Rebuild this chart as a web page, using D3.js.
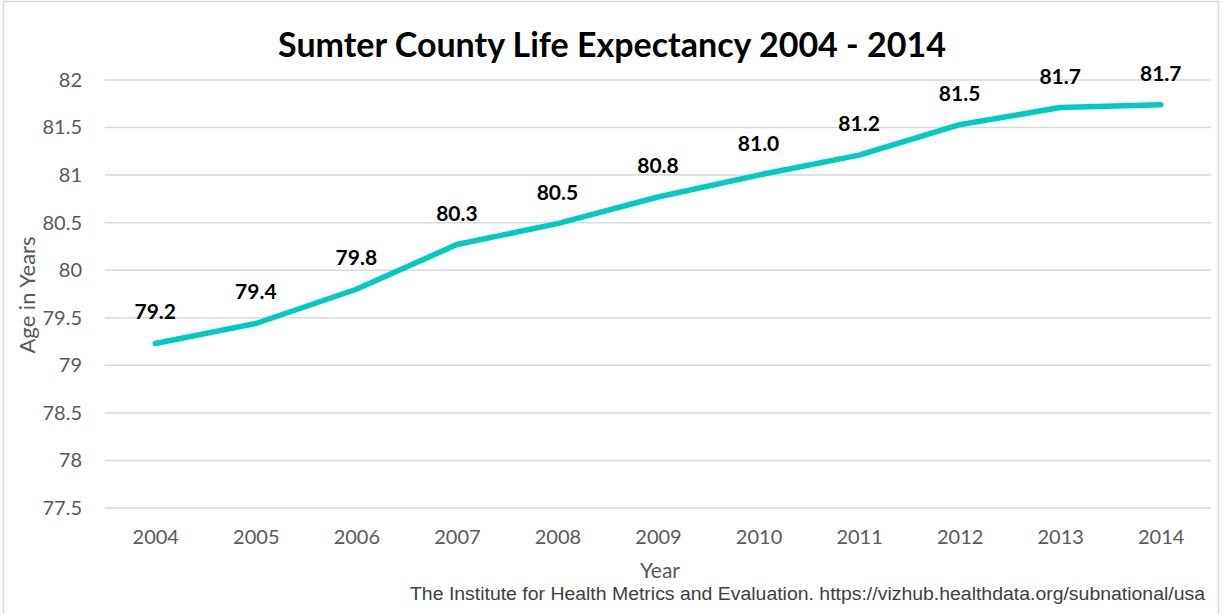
<!DOCTYPE html>
<html>
<head>
<meta charset="utf-8">
<script src="https://cdnjs.cloudflare.com/ajax/libs/d3/7.8.5/d3.min.js"></script>
<style>
  body { margin: 0; background: #fff; }
  svg { display: block; }
</style>
</head>
<body>
<div id="chart"></div>
<script>
// data
const years = ["2004", "2005", "2006", "2007", "2008", "2009", "2010", "2011", "2012", "2013", "2014"];
const lifeExpectancy = [79.23, 79.44, 79.80, 80.27, 80.49, 80.77, 81.0, 81.21, 81.53, 81.71, 81.74];
const yTicks = [77.5, 78, 78.5, 79, 79.5, 80, 80.5, 81, 81.5, 82];

const width = 1222;
const height = 614;
const margin = { top: 80, right: 11, bottom: 106, left: 105 };

const svg = d3.select("#chart").append("svg")
    .attr("width", width)
    .attr("height", height);

// chart border
svg.append("rect")
    .attr("x", 3.5).attr("y", 1.5)
    .attr("width", 1215).attr("height", 640)
    .attr("fill", "none")
    .attr("stroke", "#d9d9d9")
    .attr("stroke-width", 1.5);

const x = d3.scalePoint()
    .domain(years)
    .range([margin.left, width - margin.right])
    .padding(0.5);

const y = d3.scaleLinear()
    .domain([77.5, 82])
    .range([height - margin.bottom, margin.top]);

// gridlines
svg.append("g")
    .selectAll("line")
    .data(yTicks)
    .enter()
    .append("line")
    .attr("x1", margin.left)
    .attr("x2", width - margin.right)
    .attr("y1", d => y(d))
    .attr("y2", d => y(d))
    .attr("stroke", "#d9d9d9")
    .attr("stroke-width", 1.5);

// y axis labels
const yAxis = svg.append("g")
    .attr("transform", `translate(${margin.left - 23},0)`)
    .call(d3.axisLeft(y).tickValues(yTicks).tickSize(0).tickPadding(0).tickFormat(d3.format("")));
yAxis.select(".domain").remove();
yAxis.selectAll("text")
    .attr("font-family", "Lato, sans-serif")
    .attr("font-size", 20)
    .attr("fill", "#595959");

// x axis labels
const xAxis = svg.append("g")
    .attr("transform", `translate(0,${height - margin.bottom})`)
    .call(d3.axisBottom(x).tickSize(0).tickPadding(22));
xAxis.select(".domain").remove();
xAxis.selectAll("text")
    .attr("font-family", "Lato, sans-serif")
    .attr("font-size", 20)
    .attr("fill", "#595959");

// line
const line = d3.line()
    .x((d, i) => x(years[i]))
    .y(d => y(d));

svg.append("path")
    .datum(lifeExpectancy)
    .attr("d", line)
    .attr("fill", "none")
    .attr("stroke", "#00cac2")
    .attr("stroke-width", 5.5)
    .attr("stroke-linecap", "round")
    .attr("stroke-linejoin", "round");

// value labels
svg.selectAll(".value-label")
    .data(lifeExpectancy)
    .enter()
    .append("text")
    .attr("class", "value-label")
    .attr("x", (d, i) => x(years[i]))
    .attr("y", d => y(d) - 24)
    .attr("text-anchor", "middle")
    .attr("font-family", "Lato, sans-serif")
    .attr("font-weight", "bold")
    .attr("font-size", 21)
    .attr("fill", "#000")
    .text(d => d.toFixed(1));

// title
svg.append("text")
    .attr("x", 612)
    .attr("y", 57)
    .attr("text-anchor", "middle")
    .attr("font-family", "Lato, sans-serif")
    .attr("font-weight", "bold")
    .attr("font-size", 34)
    .attr("fill", "#000")
    .text("Sumter County Life Expectancy 2004 - 2014");

// axis titles
svg.append("text")
    .attr("transform", "translate(35,295) rotate(-90)")
    .attr("text-anchor", "middle")
    .attr("font-family", "Lato, sans-serif")
    .attr("font-size", 22)
    .attr("fill", "#595959")
    .text("Age in Years");

svg.append("text")
    .attr("x", 660)
    .attr("y", 578)
    .attr("text-anchor", "middle")
    .attr("font-family", "Lato, sans-serif")
    .attr("font-size", 21)
    .attr("fill", "#595959")
    .text("Year");

// source
svg.append("text")
    .attr("x", 1205)
    .attr("y", 600)
    .attr("text-anchor", "end")
    .attr("font-family", "Liberation Sans, Arial, sans-serif")
    .attr("font-size", 18)
    .attr("textLength", 795)
    .attr("lengthAdjust", "spacingAndGlyphs")
    .attr("fill", "#404040")
    .text("The Institute for Health Metrics and Evaluation. https://vizhub.healthdata.org/subnational/usa");
</script>
</body>
</html>
